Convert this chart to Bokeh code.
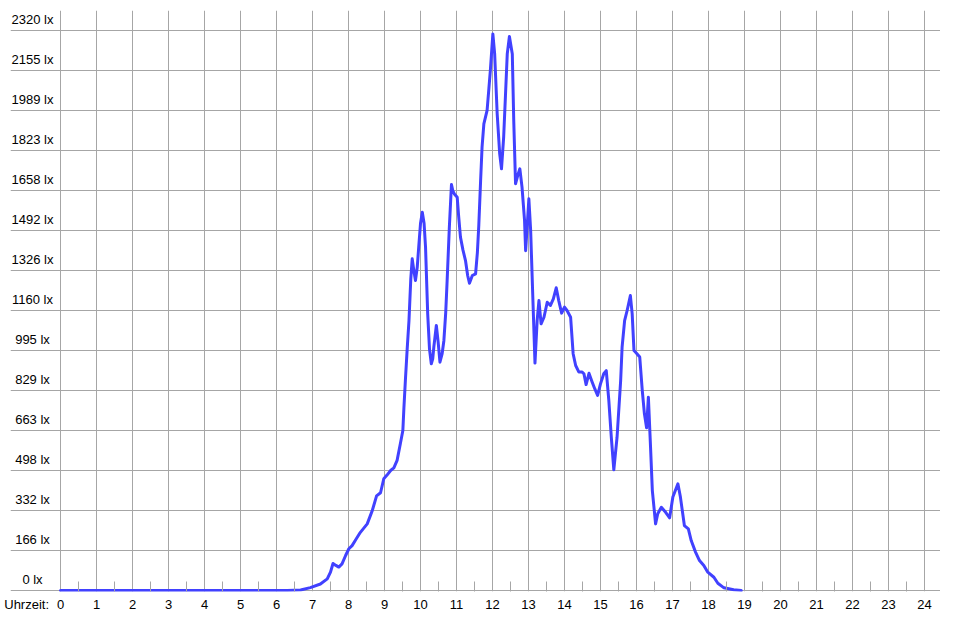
from bokeh.plotting import figure
from bokeh.models import Range1d, FixedTicker
from bokeh.core.properties import value
from bokeh.embed import file_html
from bokeh.resources import INLINE

# --- data ---
hours = [0.0, 6.3, 6.67, 6.94, 7.22, 7.41, 7.5, 7.57, 7.65, 7.73, 7.82, 7.92, 8.01, 8.1, 8.2,
         8.33, 8.52, 8.66, 8.78, 8.89, 8.98, 9.07, 9.17, 9.26, 9.35, 9.44, 9.51, 9.54, 9.58,
         9.63, 9.68, 9.73, 9.77, 9.82, 9.86, 9.91, 9.95, 10.0, 10.05, 10.1, 10.14, 10.2, 10.25,
         10.3, 10.34, 10.37, 10.44, 10.49, 10.54, 10.6, 10.65, 10.7, 10.74, 10.8, 10.86, 10.9,
         10.94, 11.02, 11.06, 11.11, 11.18, 11.25, 11.31, 11.36, 11.44, 11.53, 11.58, 11.62,
         11.67, 11.71, 11.76, 11.85, 11.9, 11.94, 12.01, 12.06, 12.13, 12.2, 12.25, 12.31,
         12.36, 12.41, 12.47, 12.55, 12.59, 12.64, 12.7, 12.76, 12.82, 12.89, 12.92, 12.96,
         13.01, 13.06, 13.12, 13.18, 13.24, 13.29, 13.35, 13.43, 13.52, 13.61, 13.69, 13.77,
         13.84, 13.92, 14.0, 14.07, 14.17, 14.24, 14.31, 14.4, 14.49, 14.54, 14.6, 14.68,
         14.77, 14.84, 14.92, 15.0, 15.09, 15.16, 15.23, 15.3, 15.37, 15.46, 15.56, 15.6,
         15.67, 15.74, 15.83, 15.88, 15.93, 16.0, 16.09, 16.16, 16.22, 16.28, 16.33, 16.39,
         16.44, 16.53, 16.59, 16.69, 16.81, 16.92, 17.01, 17.15, 17.22, 17.33, 17.44, 17.52,
         17.64, 17.75, 17.87, 17.98, 18.15, 18.26, 18.43, 18.7, 18.91]
lux = [0, 0, 2, 12, 27, 48, 76, 112, 104, 97, 110, 145, 173, 186, 210,
       241, 276, 331, 392, 405, 463, 478, 497, 508, 539, 608, 663, 759, 870,
       1000, 1118, 1290, 1374, 1320, 1284, 1340, 1422, 1520, 1567, 1520, 1422, 1146, 1000,
       939, 960, 1008, 1098, 1030, 946, 980, 1036, 1150, 1284, 1500, 1682, 1655,
       1643, 1629, 1550, 1464, 1410, 1367, 1305, 1273, 1305, 1312, 1400, 1515,
       1699, 1837, 1933, 1989, 2080, 2154, 2306, 2223, 1975, 1809, 1747, 1878,
       2050, 2223, 2295, 2223, 1947, 1685, 1719, 1747, 1671, 1533, 1408, 1500,
       1623, 1491, 1215, 942, 1118, 1201, 1105, 1132, 1194, 1181, 1208, 1254,
       1201, 1149, 1174, 1160, 1132, 981, 932, 905, 905, 898, 853, 900,
       863, 836, 808, 856, 898, 911, 790, 635, 500, 635, 870, 1008,
       1118, 1160, 1222, 1146, 994, 983, 967, 829, 732, 674, 801, 594,
       414, 276, 318, 345, 324, 301, 387, 442, 387, 269, 255, 207,
       159, 124, 104, 76, 55, 30, 11, 3, 0]

y_ticks = [k * 2320 / 14 for k in range(15)]
y_labels = ["0 lx", "166 lx", "332 lx", "498 lx", "663 lx", "829 lx", "995 lx", "1160 lx",
            "1326 lx", "1492 lx", "1658 lx", "1823 lx", "1989 lx", "2155 lx", "2320 lx"]
hour_ticks = list(range(25))
hour_labels = [str(h) for h in hour_ticks]
half_ticks = [h + 0.5 for h in range(24)]
axis_title = "Uhrzeit:"
axis_title_pos = -0.94

FONT = "Liberation Sans"
GRID = "#a6a6a6"

p = figure(width=940, height=614, output_backend="svg", toolbar_location=None,
           x_range=Range1d(-50 / 36, -50 / 36 + 930 / 36),
           y_range=Range1d(-1 / 0.241379, 580 / 0.241379),
           min_border_left=10, min_border_right=0, min_border_top=10, min_border_bottom=23)
p.yaxis.visible = False
p.outline_line_color = None
p.background_fill_color = "white"
p.border_fill_color = "white"

p.xgrid.ticker = FixedTicker(ticks=hour_ticks)
p.ygrid.ticker = FixedTicker(ticks=y_ticks)
for g in (p.xgrid, p.ygrid):
    g.grid_line_color = GRID
    g.grid_line_width = 1

ax = p.xaxis[0]
ax.ticker = FixedTicker(ticks=[axis_title_pos] + hour_ticks, minor_ticks=half_ticks)
overrides = {axis_title_pos: axis_title}
overrides.update({h: lab for h, lab in zip(hour_ticks, hour_labels)})
ax.major_label_overrides = overrides
ax.axis_line_color = None
ax.major_tick_line_color = None
ax.major_tick_in = 0
ax.major_tick_out = 0
ax.minor_tick_line_color = GRID
ax.minor_tick_in = 10
ax.minor_tick_out = 0
ax.major_label_standoff = 5
ax.major_label_text_font = FONT
ax.major_label_text_font_size = "13px"
ax.major_label_text_color = "black"

p.text(x=[0] * len(y_ticks), y=y_ticks, text=y_labels, x_offset=-28, y_offset=-4,
       text_align="center", text_baseline="bottom", text_font=value(FONT),
       text_font_size="13px", text_color="black")

p.line(hours, lux, line_color="#4141ff", line_width=3, line_join="round", line_cap="round")

open("out.html", "w").write(file_html(p, INLINE))
